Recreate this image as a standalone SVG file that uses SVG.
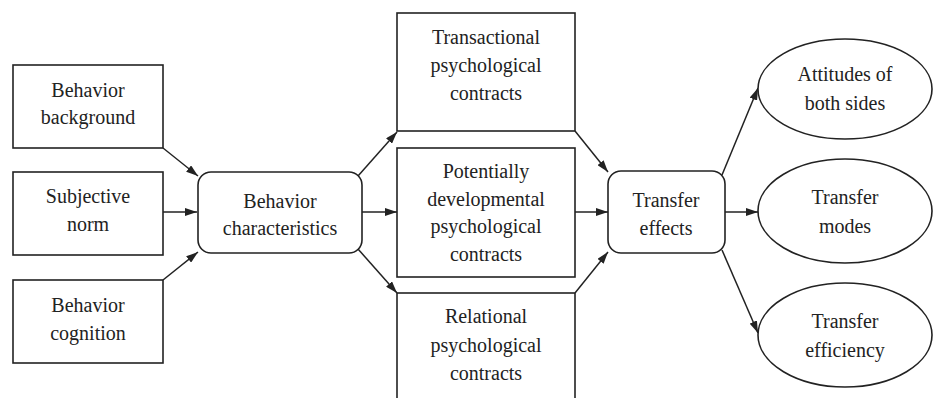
<svg xmlns="http://www.w3.org/2000/svg" width="935" height="398" viewBox="0 0 935 398">
  <style>
    .box { fill: #fff; stroke: #222; stroke-width: 1.6; }
    .link { fill: none; stroke: #222; stroke-width: 1.5; marker-end: url(#arrow); }
    text { font-family: "Liberation Serif", serif; font-size: 20px; fill: #222; text-anchor: middle; }
  </style>
  <defs>
    <marker id="arrow" viewBox="0 0 12 8" refX="12" refY="4" markerWidth="12" markerHeight="8" markerUnits="userSpaceOnUse" orient="auto">
      <path d="M0,0 L12,4 L0,8 z" fill="#222"/>
    </marker>
  </defs>
  <rect width="935" height="398" fill="#fff"/>

  <g id="connectors">
    <line class="link" x1="163" y1="148" x2="198" y2="176"/>
    <line class="link" x1="163" y1="212" x2="197" y2="212"/>
    <line class="link" x1="163" y1="280" x2="198" y2="252"/>
    <line class="link" x1="358" y1="176" x2="397" y2="132"/>
    <line class="link" x1="362" y1="212" x2="397" y2="212"/>
    <line class="link" x1="358" y1="249" x2="397" y2="293"/>
    <line class="link" x1="575" y1="131" x2="608" y2="172"/>
    <line class="link" x1="575" y1="212" x2="608" y2="212"/>
    <line class="link" x1="575" y1="293" x2="608" y2="252"/>
    <line class="link" x1="722" y1="175" x2="758" y2="88"/>
    <line class="link" x1="725" y1="212" x2="758" y2="212"/>
    <line class="link" x1="722" y1="250" x2="758" y2="333"/>
  </g>

  <g id="behavior-background">
    <rect class="box" x="13" y="65" width="150" height="83"/>
    <text x="88" y="97">Behavior</text>
    <text x="88" y="124">background</text>
  </g>
  <g id="subjective-norm">
    <rect class="box" x="13" y="172" width="150" height="83"/>
    <text x="88" y="203">Subjective</text>
    <text x="88" y="231">norm</text>
  </g>
  <g id="behavior-cognition">
    <rect class="box" x="13" y="280" width="150" height="83"/>
    <text x="88" y="312">Behavior</text>
    <text x="88" y="340">cognition</text>
  </g>

  <g id="behavior-characteristics">
    <rect class="box" x="198" y="172" width="164" height="81" rx="13"/>
    <text x="280" y="208">Behavior</text>
    <text x="280" y="235">characteristics</text>
  </g>

  <g id="transactional">
    <rect class="box" x="397" y="13" width="178" height="118"/>
    <text x="486" y="44">Transactional</text>
    <text x="486" y="72">psychological</text>
    <text x="486" y="100">contracts</text>
  </g>
  <g id="potentially-developmental">
    <rect class="box" x="397" y="148" width="178" height="129"/>
    <text x="486" y="178">Potentially</text>
    <text x="486" y="206">developmental</text>
    <text x="486" y="233">psychological</text>
    <text x="486" y="261">contracts</text>
  </g>
  <g id="relational">
    <rect class="box" x="397" y="293" width="178" height="110"/>
    <text x="486" y="323">Relational</text>
    <text x="486" y="352">psychological</text>
    <text x="486" y="380">contracts</text>
  </g>

  <g id="transfer-effects">
    <rect class="box" x="608" y="171" width="117" height="82" rx="13"/>
    <text x="666" y="207">Transfer</text>
    <text x="666" y="235">effects</text>
  </g>

  <g id="attitudes">
    <ellipse class="box" cx="845" cy="89" rx="87" ry="50"/>
    <text x="845" y="81">Attitudes of</text>
    <text x="845" y="110">both sides</text>
  </g>
  <g id="transfer-modes">
    <ellipse class="box" cx="845" cy="211" rx="87" ry="52"/>
    <text x="845" y="204">Transfer</text>
    <text x="845" y="233">modes</text>
  </g>
  <g id="transfer-efficiency">
    <ellipse class="box" cx="845" cy="335" rx="87" ry="52"/>
    <text x="845" y="328">Transfer</text>
    <text x="845" y="357">efficiency</text>
  </g>
</svg>
